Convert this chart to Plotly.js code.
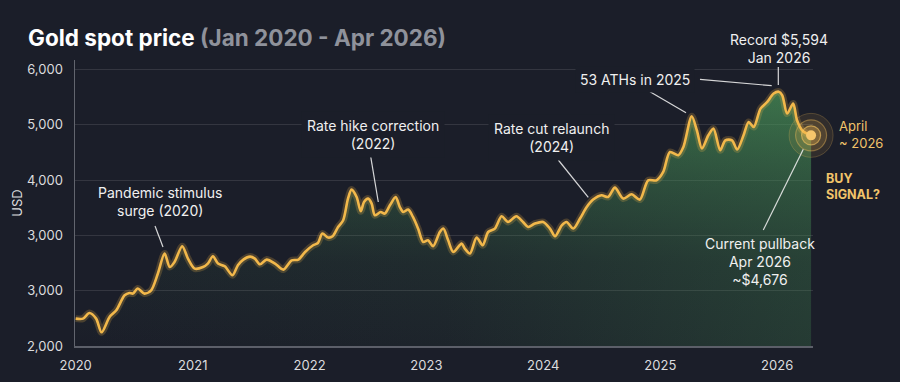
<!DOCTYPE html>
<html><head><meta charset="utf-8">
<script src="https://cdn.plot.ly/plotly-3.0.1.min.js"></script>
<style>html,body{margin:0;padding:0;background:#1b1e29;}#chart{width:900px;height:382px;}</style>
</head><body><div id="chart"></div>
<script>
const dates = ['2020-01-01','2020-01-24','2020-02-13','2020-03-05','2020-03-22','2020-04-16','2020-05-07','2020-06-02','2020-06-17','2020-06-28','2020-07-13','2020-08-03','2020-08-24','2020-09-14','2020-10-05','2020-10-21','2020-11-05','2020-11-29','2020-12-17',
'2021-01-07','2021-02-02','2021-02-17','2021-03-05','2021-03-21','2021-04-11','2021-05-05','2021-05-22','2021-06-08','2021-06-29','2021-07-14','2021-07-30','2021-08-20','2021-09-15','2021-10-11','2021-11-06','2021-11-27','2021-12-18',
'2022-01-12','2022-01-27','2022-02-10','2022-02-28','2022-03-14','2022-03-31','2022-04-16','2022-05-01','2022-05-12','2022-05-28','2022-06-10','2022-06-20','2022-07-03','2022-07-14','2022-07-24','2022-08-11','2022-08-24','2022-09-09','2022-09-27','2022-10-10','2022-10-21','2022-11-05','2022-11-20','2022-12-06','2022-12-22',
'2023-01-06','2023-01-22','2023-02-12','2023-02-23','2023-03-10','2023-03-26','2023-04-21','2023-05-01','2023-05-17','2023-06-07','2023-06-26','2023-07-13','2023-08-03','2023-08-24','2023-09-13','2023-10-09','2023-10-30','2023-11-15','2023-12-06',
'2024-01-01','2024-01-22','2024-02-07','2024-02-28','2024-03-14','2024-04-04','2024-04-25','2024-05-16','2024-06-05','2024-07-01','2024-07-22','2024-08-12','2024-09-07','2024-10-03','2024-10-29','2024-11-24','2024-12-20',
'2025-01-10','2025-01-31','2025-02-26','2025-03-14','2025-04-09','2025-04-25','2025-05-11','2025-05-31','2025-06-16','2025-07-07','2025-07-23','2025-08-13','2025-08-29','2025-09-18','2025-10-04','2025-10-20','2025-11-10','2025-12-01','2025-12-21',
'2026-01-06','2026-01-17','2026-02-01','2026-02-20','2026-03-04','2026-03-20','2026-04-04','2026-04-17'];
const prices = [1495,1495,1597,1495,1248,1525,1646,1917,1959,1948,2039,1948,2008,2310,2672,2429,2520,2804,2581,
2400,2429,2491,2623,2491,2442,2279,2460,2563,2617,2581,2478,2563,2491,2382,2550,2563,2701,
2822,2863,3033,2961,2985,3153,3274,3666,3829,3695,3437,3605,3666,3576,3364,3424,3395,3545,3695,3514,3424,3467,3334,3124,2881,
2912,2804,3062,3124,2912,2701,2852,2762,2672,2961,2822,3062,3124,3346,3243,3346,3243,3153,3214,
3243,3124,2985,3183,3243,3124,3305,3514,3648,3726,3695,3865,3666,3744,3648,3997,3997,
4148,4509,4450,4600,5155,4902,4571,4811,4932,4540,4721,4721,4553,4811,5052,4961,5294,5414,5566,
5600,5535,5204,5385,5083,4902,4842,4810];
const yTickVals = [1000,2000,3000,4000,5000,6000];
const yTickText = ['2,000','3,000','3,000','4,000','5,000','6,000'];
const xTickVals = ['2020-01-01','2021-01-01','2022-01-01','2023-01-01','2024-01-01','2025-01-01','2026-01-01'];
const xTickText = ['2020','2021','2022','2023','2024','2025','2026'];

const BG = '#1b1e29';
const GOLD = '#f2b84b';
const FONT = 'Inter, "Noto Sans", sans-serif';

// pixel -> paper helpers for annotation placement
const L = 75, R = 813, T = 60, B = 346;
const px = x => (x - L) / (R - L);
const py = y => (B - y) / (B - T);

const lastX = dates[dates.length - 1];
const lastY = prices[prices.length - 1];

const traces = [
  { x: dates, y: prices, type: 'scatter', mode: 'none', fill: 'tozeroy',
    fillgradient: { type: 'vertical', start: 1000, stop: 6000,
      colorscale: [[0, 'rgba(70,140,85,0)'], [0.3, 'rgba(70,140,85,0.07)'], [0.6, 'rgba(72,145,88,0.3)'], [1, 'rgba(80,160,95,0.66)']] },
    line: { shape: 'spline', smoothing: 0.8 }, hoverinfo: 'skip' },
  { x: dates, y: prices, type: 'scatter', mode: 'none', fill: 'tozeroy',
    fillgradient: { type: 'horizontal',
      colorscale: [[0, 'rgba(70,150,85,0)'], [0.5, 'rgba(70,150,85,0.05)'], [1, 'rgba(70,150,85,0.24)']] },
    line: { shape: 'spline', smoothing: 0.8 }, hoverinfo: 'skip' },
  { x: dates, y: prices, type: 'scatter', mode: 'lines',
    line: { color: 'rgba(242,184,75,0.22)', width: 7, shape: 'spline', smoothing: 0.8 }, hoverinfo: 'skip' },
  { x: dates, y: prices, type: 'scatter', mode: 'lines',
    line: { color: GOLD, width: 2.6, shape: 'spline', smoothing: 0.8 }, hoverinfo: 'skip' },
  { x: [lastX], y: [lastY], type: 'scatter', mode: 'markers', cliponaxis: false,
    marker: { size: 44, color: 'rgba(245,185,80,0.10)', line: { width: 1, color: 'rgba(245,190,90,0.22)' } }, hoverinfo: 'skip' },
  { x: [lastX], y: [lastY], type: 'scatter', mode: 'markers', cliponaxis: false,
    marker: { size: 31, color: 'rgba(245,185,80,0.16)', line: { width: 1.2, color: 'rgba(245,190,90,0.4)' } }, hoverinfo: 'skip' },
  { x: [lastX], y: [lastY], type: 'scatter', mode: 'markers', cliponaxis: false,
    marker: { size: 19, color: 'rgba(245,185,80,0.3)', line: { width: 1.2, color: 'rgba(250,200,100,0.6)' } }, hoverinfo: 'skip' },
  { x: [lastX], y: [lastY], type: 'scatter', mode: 'markers', cliponaxis: false,
    marker: { size: 10, color: '#f7c66b', line: { width: 0 } }, hoverinfo: 'skip' }
];

const annFont = { family: FONT, size: 14, color: '#f0f0f0' };
const goldFont = { family: FONT, size: 13, color: '#f2c46a' };
function ann(text, x, y, extra) {
  return Object.assign({ text: text, xref: 'paper', yref: 'paper', x: px(x), y: py(y),
    xanchor: 'center', yanchor: 'middle', showarrow: false, font: annFont }, extra || {});
}
const annotations = [
  ann('Pandemic stimulus<br>surge (2020)', 160, 201),
  ann('Rate hike correction<br>(2022)', 373, 134, { bgcolor: BG, borderpad: 5 }),
  ann('Rate cut relaunch<br>(2024)', 551, 137.5, { bgcolor: BG, borderpad: 5 }),
  ann('53 ATHs in 2025', 635, 79.3, { bgcolor: BG, borderpad: 4 }),
  ann('Record $5,594<br>Jan 2026', 779, 48.5),
  ann('Current pullback<br>Apr 2026<br>~$4,676', 760, 261.7),
  ann('April<br>~ 2026', 836.5, 134.5, { xanchor: 'left', align: 'left', font: goldFont }),
  ann('<b>BUY</b><br><b>SIGNAL?</b>', 824, 186.3, { xanchor: 'left', align: 'left', font: { family: FONT, size: 12.5, color: '#f2c46a' } })
];

function seg(x0, y0, x1, y1) {
  return { type: 'line', xref: 'paper', yref: 'paper', x0: px(x0), y0: py(y0), x1: px(x1), y1: py(y1),
    line: { color: 'rgba(235,235,235,0.9)', width: 1.2 } };
}
const shapes = [
  seg(155, 226, 163, 247),
  seg(370.7, 156.7, 378.3, 202),
  seg(558.3, 160, 588.3, 197.3),
  seg(650, 91.7, 686, 112.7),
  seg(700, 79.3, 771.7, 85.7),
  seg(778.3, 67, 778.3, 85),
  seg(763.3, 230, 803.3, 149.3)
];

const layout = {
  width: 900, height: 382,
  paper_bgcolor: BG, plot_bgcolor: BG,
  margin: { l: L, r: 900 - R, t: T, b: 382 - B },
  showlegend: false,
  font: { family: FONT, color: '#d6d6d8' },
  title: { text: '<b>Gold spot price <span style="color:#8f929b">(Jan 2020 - Apr 2026)</span></b>',
    xref: 'container', yref: 'container', x: 28 / 900, xanchor: 'left', y: 1 - 38 / 382, yanchor: 'middle',
    font: { family: FONT, size: 22.5, color: '#ffffff' } },
  xaxis: { type: 'date', range: ['2019-12-30', '2026-04-23'], tickvals: xTickVals, ticktext: xTickText,
    showgrid: false, zeroline: false, showline: true, linecolor: '#5c5f69', linewidth: 2,
    ticks: '', ticklabelstandoff: 6, tickfont: { family: FONT, size: 13, color: '#dcdcde' }, fixedrange: true },
  yaxis: { range: [1000, 6173], tickvals: yTickVals, ticktext: yTickText,
    showgrid: true, gridcolor: 'rgba(255,255,255,0.11)', gridwidth: 1, zeroline: false,
    showline: true, linecolor: '#62656e', linewidth: 1.5, ticks: '', ticklabelstandoff: 8,
    tickfont: { family: FONT, size: 13, color: '#dcdcde' },
    title: { text: 'USD', standoff: 1, font: { family: FONT, size: 13, color: '#dcdcde' } }, fixedrange: true },
  annotations: annotations,
  shapes: shapes
};

Plotly.newPlot('chart', traces, layout, { displayModeBar: false, staticPlot: true });
</script>
</body></html>
